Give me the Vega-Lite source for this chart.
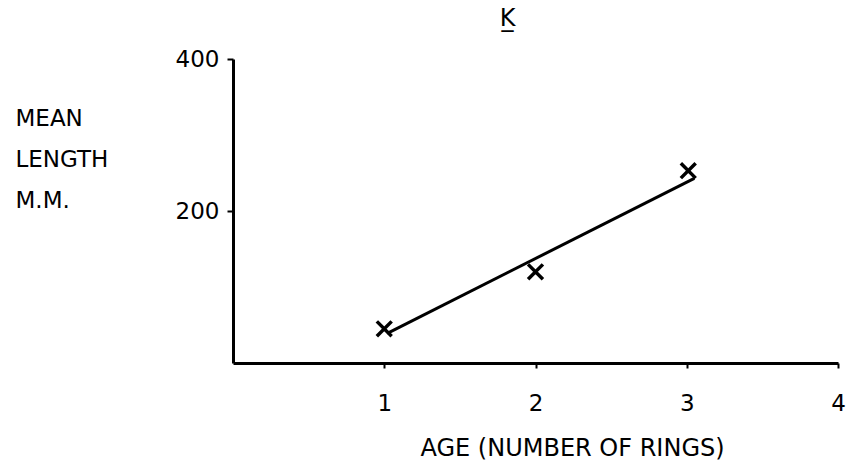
{
  "$schema": "https://vega.github.io/schema/vega-lite/v6.json",
  "autosize": "none",
  "width": 605,
  "height": 304,
  "padding": {"left": 233, "top": 59, "right": 24, "bottom": 106},
  "background": "white",
  "config": {"view": {"stroke": null}, "font": "DejaVu Sans"},
  "title": {"text": "K̲", "fontSize": 24, "fontWeight": "normal", "anchor": "middle", "dx": -28, "offset": 17, "color": "black", "font": "DejaVu Sans"},
  "datasets": {
    "points": [
      {"age": 1, "length": 45},
      {"age": 2, "length": 120},
      {"age": 3.01, "length": 253}
    ],
    "fit": [
      {"age": 1.02, "length": 39},
      {"age": 3.05, "length": 243}
    ]
  },
  "layer": [
    {
      "data": {"name": "fit"},
      "mark": {"type": "line", "color": "black", "strokeWidth": 3},
      "encoding": {
        "x": {"field": "age", "type": "quantitative", "scale": {"domain": [0, 4], "nice": false},
          "axis": {"values": [1, 2, 3, 4], "format": "d", "grid": false, "domainColor": "black", "domainWidth": 3, "tickColor": "black", "tickWidth": 2, "tickSize": 5, "labelFontSize": 23, "labelColor": "black", "labelPadding": 24, "labelFlush": false, "title": "AGE  (NUMBER OF RINGS)", "titleFontSize": 24, "titleFontWeight": "normal", "titleColor": "black", "titleX": 339, "titleY": 92, "titleBaseline": "alphabetic", "titleAlign": "center", "titleAnchor": null}},
        "y": {"field": "length", "type": "quantitative", "scale": {"domain": [0, 400], "nice": false},
          "axis": {"values": [200, 400], "format": "d", "grid": false, "domainColor": "black", "domainWidth": 3, "tickColor": "black", "tickWidth": 2, "tickSize": 6, "labelFontSize": 23, "labelColor": "black", "labelPadding": 8, "labelFlush": false, "title": ["MEAN", "LENGTH", "M.M."], "titleAngle": 0, "titleAlign": "left", "titleBaseline": "alphabetic", "titleX": -218, "titleY": 66, "titleLineHeight": 41, "titleFontSize": 23, "titleFontWeight": "normal", "titleColor": "black"}}
      }
    },
    {
      "data": {"name": "points"},
      "mark": {"type": "point", "shape": "M-1,-1L1,1M-1,1L1,-1", "stroke": "black", "strokeWidth": 3.5, "size": 220, "filled": false, "opacity": 1},
      "encoding": {
        "x": {"field": "age", "type": "quantitative"},
        "y": {"field": "length", "type": "quantitative"}
      }
    }
  ]
}
